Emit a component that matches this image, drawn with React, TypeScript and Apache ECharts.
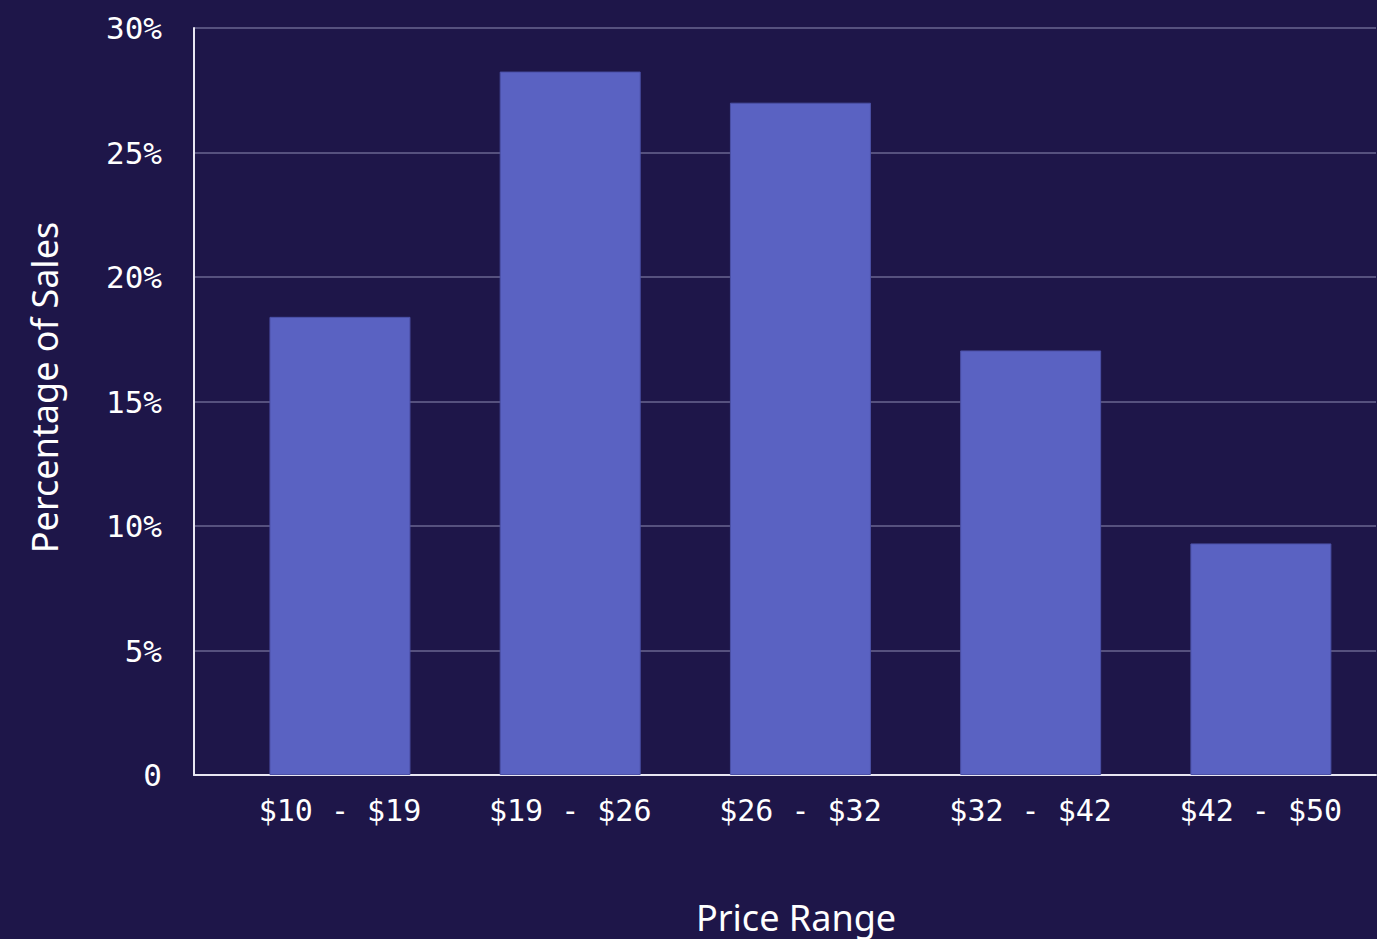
import React, { useEffect, useRef } from "react";
import * as echarts from "echarts";

const categories = ["$10 - $19", "$19 - $26", "$26 - $32", "$32 - $42", "$42 - $50"];
const salesShare = [18.4, 28.25, 27.0, 17.05, 9.3];
const yTicks = [0, 5, 10, 15, 20, 25, 30];

export default function App() {
  const ref = useRef<HTMLDivElement>(null);
  useEffect(() => {
    document.body.style.margin = "0";
    const chart = echarts.init(ref.current!, null, { renderer: "svg" });
    const mono = "'DejaVu Sans Mono', monospace";
    const sans = "'Noto Sans', sans-serif";
    chart.setOption({
      animation: false,
      backgroundColor: "#1e1649",
      grid: { left: 194, right: 1, top: 28, bottom: 164, outerBoundsMode: "none", containLabel: false },
      xAxis: {
        type: "value",
        min: -0.634,
        max: 4.5,
        name: "Price Range",
        nameLocation: "middle",
        nameGap: 124,
        nameTextStyle: {
          color: "#ffffff",
          fontFamily: sans,
          fontSize: 36,
          padding: [0, 0, 0, 22],
        },
        splitLine: { show: false },
        axisTick: { show: false },
        axisLine: { show: true, onZero: false, lineStyle: { color: "#e8e6f2", width: 2 } },
        axisLabel: {
          customValues: [0, 1, 2, 3, 4],
          formatter: (v: number) => categories[Math.round(v)] ?? "",
          color: "#ffffff",
          fontFamily: mono,
          fontSize: 30,
          margin: 20,
        },
      },
      yAxis: {
        type: "value",
        min: 0,
        max: 30,
        interval: 5,
        name: "Percentage of Sales",
        nameLocation: "middle",
        nameGap: 132,
        nameRotate: 90,
        nameTextStyle: {
          color: "#ffffff",
          fontFamily: sans,
          fontSize: 36,
          padding: [0, 0, 0, 28],
        },
        axisLine: { show: true, onZero: false, lineStyle: { color: "#e8e6f2", width: 2 } },
        axisTick: { show: false },
        splitLine: { show: true, lineStyle: { color: "#6a6690", width: 1.5 } },
        axisLabel: {
          formatter: (v: number) => (yTicks.includes(v) && v !== 0 ? v + "%" : String(v)),
          color: "#ffffff",
          fontFamily: mono,
          fontSize: 31,
          margin: 32,
          padding: [6, 0, 0, 0],
        },
      },
      series: [
        {
          type: "bar",
          barWidth: 141,
          data: salesShare.map((v, i) => [i, v]),
          itemStyle: { color: "#5a62c2", borderColor: "#4b50a6", borderWidth: 1 },
        },
      ],
    });
    return () => chart.dispose();
  }, []);
  return <div ref={ref} style={{ width: 1377, height: 939 }} />;
}
